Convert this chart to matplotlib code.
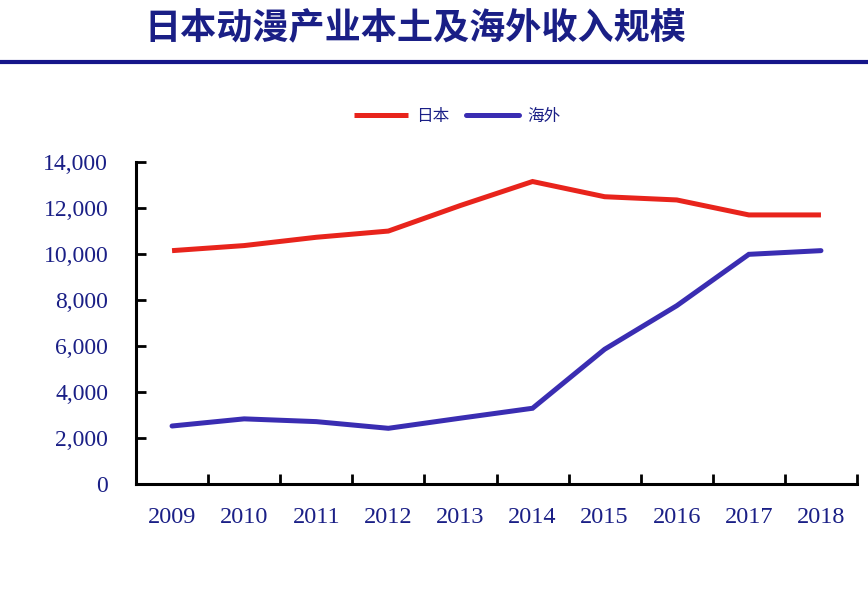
import matplotlib
matplotlib.use("Agg")
import matplotlib.pyplot as plt
from matplotlib.lines import Line2D

years = ["2009", "2010", "2011", "2012", "2013", "2014", "2015", "2016", "2017", "2018"]
japan = [10140, 10360, 10720, 10990, 12100, 13140, 12480, 12340, 11690, 11690]
overseas = [2530, 2840, 2720, 2430, 2870, 3300, 5860, 7750, 9980, 10140]
series_names = ["日本", "海外"]
yticks = [0, 2000, 4000, 6000, 8000, 10000, 12000, 14000]
title = "日本动漫产业本土及海外收入规模"

RED = "#E8241C"
BLUE = "#3A2DB2"
NAVY = "#1A1F86"

plt.rcParams['font.family'] = ['Noto Sans CJK SC', 'DejaVu Sans']

fig = plt.figure(figsize=(8.68, 5.92), dpi=100)
fig.patch.set_facecolor("white")

# title and rule
fig.text(0.479, 0.952, title, ha="center", va="center", fontsize=26,
         fontweight="bold", color=NAVY, family=['Noto Sans CJK SC'])
fig.add_artist(Line2D([0, 1], [1 - 62 / 592, 1 - 62 / 592], transform=fig.transFigure,
                      color="#16168A", linewidth=3))

ax = fig.add_axes([136 / 868, 1 - 484.3 / 592, (857 - 136) / 868, (484.3 - 161.7) / 592])
x = list(range(len(years)))
ax.plot(x, japan, color=RED, linewidth=3.6, label=series_names[0], solid_capstyle="butt", solid_joinstyle="miter")
ax.plot(x, overseas, color=BLUE, linewidth=3.6, label=series_names[1], solid_capstyle="round", solid_joinstyle="miter")

ax.set_xlim(-0.5, len(years) - 0.5)
ax.set_ylim(0, 14000)
ax.set_yticks(yticks)
ax.set_yticklabels([f"{v:,}" for v in yticks], family="Liberation Serif", fontsize=17, color=NAVY)
ax.set_xticks([i + 0.5 for i in range(len(years))])
ax.set_xticklabels([])
ax.set_xticks(x, minor=True)
ax.set_xticklabels(years, minor=True, family="Liberation Serif", fontsize=17.5, color=NAVY)
ax.tick_params(axis="x", which="minor", length=0, pad=16)
ax.tick_params(axis="x", which="major", direction="in", length=7, width=2, color="black")
ax.tick_params(axis="y", direction="in", length=7, width=2, color="black", pad=20)
for s in ["top", "right"]:
    ax.spines[s].set_visible(False)
for s in ["left", "bottom"]:
    ax.spines[s].set_linewidth(2.2)
    ax.spines[s].set_color("black")

leg = fig.legend(loc="center", bbox_to_anchor=(0.527, 1 - 116 / 592), ncol=2, frameon=False,
                 fontsize=12, handlelength=3.2, columnspacing=1.0, handletextpad=0.5)
for t in leg.get_texts():
    t.set_color(NAVY)

fig.savefig("out.png", dpi=100, facecolor="white")
